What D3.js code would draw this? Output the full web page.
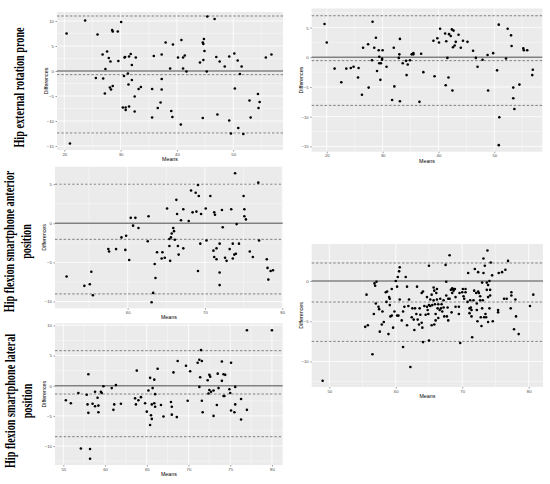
<!DOCTYPE html>
<html>
<head>
<meta charset="utf-8">
<script src="https://cdn.jsdelivr.net/npm/d3@7/dist/d3.min.js"></script>
<style>
  html, body { margin: 0; padding: 0; background: #fff; }
  svg { display: block; }
</style>
</head>
<body>
<div id="chart"></div>
<script>
// ---------------- DATA: [mean, difference] per subject ----------------
const p1Points = [
  [20.4, 7.5], [21.0, -14.5], [23.7, 10.1], [25.9, 7.3], [25.6, -1.4], [26.8, 3.3], [26.9, -1.5],
  [27.2, -4.5], [27.3, 0.4], [27.6, 3.9], [27.9, 2.6], [28.1, -3.3], [28.2, 1.9], [28.3, -3.7],
  [28.5, 8.2], [28.6, 7.9], [28.6, -3.0], [29.5, 7.9], [29.6, 2.0], [30.1, 9.8], [30.4, -7.3],
  [30.6, -1.0], [30.7, 2.7], [30.8, 2.8], [30.9, -7.3], [30.9, -7.8], [31.3, -0.5], [31.4, -2.7],
  [31.5, 2.9], [31.5, -7.1], [31.8, 3.4], [32.0, 1.2], [32.0, -1.8], [32.5, -5.1], [32.5, -8.1],
  [32.7, 2.7], [33.2, -3.6], [33.6, -3.2], [35.6, -9.3], [35.6, -3.6], [35.9, 3.0], [36.6, -7.4],
  [37.1, -6.3], [37.3, -1.6], [37.3, -3.7], [37.3, 3.3], [38.0, 5.7], [38.8, 0.5], [39.0, -8.0],
  [39.2, -9.2], [39.3, 5.3], [40.2, 2.7], [40.7, -10.7], [40.8, 6.2], [41.1, 0.5], [41.1, 2.7],
  [41.4, 3.1], [41.7, -0.1], [44.1, 1.7], [44.6, -9.4], [44.6, 5.7], [44.7, 2.2], [44.7, 5.4],
  [44.8, 6.4], [44.9, 4.0], [45.3, -0.1], [45.4, 10.9], [46.7, 10.4], [47.0, 2.8], [47.2, -8.7],
  [47.6, 1.9], [48.5, 0.9], [49.3, 2.9], [49.3, -9.9], [49.6, -12.5], [50.2, 3.5], [50.3, -3.5],
  [50.8, 2.1], [50.9, -11.4], [51.2, -0.6], [51.5, 0.9], [51.8, -12.6], [52.9, -5.9], [53.1, -9.3],
  [54.4, -4.6], [54.5, -7.4], [54.7, -6.2], [55.8, 2.7], [56.8, 3.3]
];
const p2Points = [
  [19.6, 5.6], [20.0, 2.5], [21.4, -1.9], [22.6, -4.2], [23.5, -1.9], [24.3, -1.8], [24.8, -1.6],
  [25.6, -3.4], [25.7, -1.8], [26.3, -6.3], [26.5, 1.6], [27.4, 2.2], [27.5, -5.1], [28.1, -0.5],
  [28.2, 6.0], [28.5, 1.6], [28.8, 3.3], [29.0, -2.3], [29.3, 1.2], [29.4, -1.0], [29.4, 0.1],
  [29.6, -3.8], [29.7, -1.0], [29.9, -0.4], [30.0, 1.2], [29.9, -0.2], [30.7, -1.6], [31.7, -7.2],
  [32.0, 1.6], [32.1, -4.9], [32.9, -0.1], [33.1, -7.4], [33.1, 3.1], [33.0, 0.5], [33.6, -1.0],
  [34.2, -0.6], [34.3, -3.0], [34.5, -1.2], [34.9, -0.5], [35.2, 0.5], [35.5, 0.7], [35.5, 0.5],
  [36.6, -7.5], [36.9, 0.6], [37.3, -2.5], [39.1, 2.8], [39.3, -3.2], [39.8, 3.2], [40.1, 2.5],
  [40.3, 4.8], [41.3, -4.7], [41.2, 4.0], [41.4, 2.7], [41.6, -0.1], [41.8, -3.4], [41.9, 3.9],
  [42.2, 3.6], [42.4, 4.7], [42.5, -5.6], [42.7, 4.5], [42.6, 1.7], [42.9, 2.0], [43.1, 2.6],
  [43.6, 3.8], [44.0, 1.6], [44.4, 2.8], [45.2, 2.6], [46.2, 1.1], [46.7, -0.1], [47.0, -1.6],
  [47.9, -0.4], [48.8, 0.4], [48.9, -5.6], [49.8, 0.7], [50.5, -2.2], [50.8, 5.5], [50.9, -10.1],
  [50.8, -14.8], [52.1, -0.2], [52.4, 4.8], [53.0, 3.7], [53.1, 1.9], [53.4, -5.1], [53.4, -6.9],
  [53.6, -8.7], [54.5, -4.6], [55.2, 1.5], [55.3, 1.2], [55.9, 1.2], [56.8, -3.0], [56.9, -2.1]
];
const p3Points = [
  [52.1, -6.8], [54.4, -8.0], [55.1, -7.8], [55.3, -6.2], [55.5, -9.2], [57.5, -3.3], [57.6, -3.6],
  [58.5, -3.3], [59.2, -1.8], [59.8, -1.6], [59.7, -3.4], [60.2, -4.7], [60.4, 0.7], [60.7, -0.3],
  [61.0, 0.7], [61.4, -0.6], [62.6, -2.3], [62.7, 0.9], [63.3, -8.9], [63.1, -10.1], [63.5, -5.2],
  [63.6, -7.0], [63.8, -3.7], [64.5, -3.7], [64.4, -4.5], [64.8, -4.4], [65.1, 1.9], [65.4, -2.0],
  [65.4, -2.9], [65.5, -4.8], [65.6, -1.8], [65.7, -1.3], [65.9, -0.6], [66.0, -1.0], [66.1, -2.1],
  [66.3, 3.0], [66.4, 1.2], [66.5, -2.9], [66.6, -4.0], [66.9, 0.4], [67.2, 1.8], [67.2, -3.2],
  [67.9, 0.3], [68.2, 4.2], [68.4, 1.4], [68.8, 3.9], [68.9, 1.5], [69.1, 4.9], [69.2, 3.5],
  [69.1, -6.1], [69.4, -2.6], [69.5, 1.2], [70.1, 1.9], [70.2, -2.2], [70.7, 3.5], [71.1, -3.5],
  [71.2, 1.4], [71.3, 1.1], [71.2, -4.3], [71.5, -3.2], [71.5, -4.6], [71.9, -2.6], [71.9, -6.3],
  [71.9, -7.9], [72.2, 1.7], [72.3, -0.5], [72.6, -4.4], [72.8, -4.8], [73.2, -3.3], [73.4, 1.8],
  [73.6, -2.6], [73.6, -4.5], [73.8, -4.0], [73.9, 6.4], [74.0, -3.9], [74.1, -0.1], [74.4, -2.6],
  [75.0, 3.5], [75.1, 1.8], [75.1, 0.9], [75.3, 0.5], [75.8, -3.6], [76.2, -4.3], [76.9, 5.2],
  [77.0, -2.2], [78.0, -4.6], [78.1, -5.7], [78.2, -7.2], [78.5, -6.1], [78.8, -6.0]
];
const p4Points = [
  [49.0, -12.4], [55.4, -5.7], [55.6, -1.7], [55.8, -5.5], [56.5, -9.1], [56.7, -4.1], [56.8, -0.3],
  [56.9, -0.6], [57.1, -0.1], [57.0, -2.8], [57.4, -3.2], [57.5, -3.5], [57.6, -6.3], [57.9, -5.4],
  [58.0, -3.8], [58.2, -5.1], [58.5, -1.4], [58.7, -1.3], [58.6, -2.6], [58.9, -6.6], [59.0, -2.0],
  [59.1, -2.2], [59.1, -3.0], [59.2, -4.4], [59.4, -4.3], [59.4, -1.0], [59.6, -5.8], [60.0, 0.0],
  [60.2, -0.7], [60.2, -4.3], [60.3, 0.5], [60.4, -4.3], [60.5, 1.2], [60.6, 1.7], [60.6, -2.3],
  [60.9, -4.9], [61.1, -8.2], [61.3, -3.2], [61.5, 0.5], [61.7, -0.7], [61.7, -5.5], [62.0, -2.3],
  [62.2, -10.7], [62.4, -4.5], [62.7, -4.8], [62.9, -3.4], [63.1, -4.1], [63.2, -0.7], [63.3, -4.8],
  [63.5, -5.4], [63.6, -3.4], [63.9, -1.5], [63.9, -5.2], [64.0, -5.8], [64.1, -1.3], [64.1, -7.6],
  [64.3, -3.1], [64.5, -4.2], [64.7, -3.2], [64.7, -2.0], [64.9, -4.1], [65.0, 1.9], [65.0, -7.4],
  [65.0, -3.0], [65.2, -3.1], [65.4, -1.7], [65.4, -5.5], [65.5, -3.0], [65.7, -2.4], [65.7, -0.8],
  [65.8, -1.2], [65.9, -2.9], [66.0, -4.1], [66.0, -4.9], [66.1, -1.5], [66.2, -2.3], [66.2, -1.0],
  [66.3, -3.4], [66.4, -2.9], [66.6, -3.6], [66.7, -2.2], [66.8, -3.4], [66.9, -2.9], [67.2, -2.4],
  [67.2, -3.3], [67.3, -4.4], [67.5, 2.0], [67.6, -0.1], [67.6, -1.8], [67.8, -3.3], [67.9, -2.2],
  [68.1, 3.2], [68.1, -2.2], [68.3, -1.1], [68.4, -3.9], [68.5, -0.9], [68.5, -1.5], [68.6, -1.0],
  [68.7, -1.2], [68.9, -1.0], [69.0, -3.2], [69.0, -2.0], [69.5, -3.2], [69.5, -4.1], [69.7, -7.7],
  [70.0, -1.4], [70.1, -1.0], [70.2, -1.9], [70.3, -2.2], [70.5, -1.0], [70.8, -2.6], [70.9, 1.0],
  [71.1, -3.4], [71.1, -4.0], [71.2, -2.4], [71.3, -3.3], [71.4, -3.6], [71.5, -7.0], [71.7, -2.4],
  [71.8, -1.2], [71.9, 1.5], [72.1, -1.5], [72.3, -5.0], [72.4, 1.1], [72.4, -1.3], [72.5, -1.5],
  [72.7, -1.9], [72.7, -2.4], [72.8, -4.5], [72.9, -5.6], [73.0, -0.2], [73.0, -3.4], [73.1, -2.4],
  [73.2, 2.8], [73.2, 1.0], [73.3, -4.5], [73.4, 1.9], [73.5, -4.1], [73.6, -4.5], [73.7, -0.2],
  [73.8, 3.8], [73.9, -5.1], [73.9, -2.0], [74.1, -3.4], [74.1, 0.0], [74.2, -1.1], [74.2, -1.8],
  [74.3, 2.3], [74.5, 0.7], [74.6, -5.0], [75.4, -3.6], [75.4, -3.9], [75.5, 1.0], [76.0, 1.1],
  [76.3, -2.2], [76.5, 1.4], [76.7, -2.2], [76.9, 2.5], [77.3, -3.4], [77.4, -1.4], [77.4, -1.8],
  [77.8, -6.0], [78.0, -2.3], [78.1, -4.4], [78.5, -6.6], [80.2, -3.1], [80.7, -1.7],
  [63.7, -4.2], [64.8, -3.6], [66.4, -4.6], [67.0, -3.8], [65.2, -2.3], [61.9, -3.1], [62.5, -3.4],
  [65.8, -5.4], [62.8, -6.1], [59.8, -3.8], [61.1, -3.8], [69.6, -1.5], [70.5, -1.4], [72.2, -3.6],
  [72.2, -2.8], [71.4, -4.4], [73.9, -0.5], [73.7, -1.1], [67.7, -4.4], [67.9, -4.9]
];
const p5Points = [
  [55.3, -2.4], [55.9, -2.9], [56.8, -1.2], [57.1, -10.4], [57.8, -1.5], [57.9, -3.1], [58.0, -4.5],
  [58.0, 1.9], [58.2, -10.5], [58.2, -12.1], [58.5, -3.0], [58.8, -3.4], [58.8, -1.0], [59.1, -2.0],
  [59.2, -3.3], [59.2, -4.4], [59.5, -1.0], [59.6, -1.2], [59.8, -0.1], [60.8, -0.4], [61.0, -4.0],
  [61.1, -3.1], [61.3, 0.1], [61.9, -3.0], [63.6, -2.1], [63.7, -3.1], [63.8, 2.5], [64.0, -2.4],
  [64.3, -1.9], [64.8, -2.9], [65.0, -4.3], [65.2, -0.8], [65.4, -6.5], [65.4, 1.3], [65.5, -4.9],
  [65.6, -5.5], [65.6, -3.1], [65.7, -0.4], [65.9, -2.9], [65.9, 1.0], [66.0, -1.4], [66.0, -3.5],
  [66.3, 2.8], [66.7, -3.2], [67.0, -5.1], [67.9, -2.7], [68.0, -3.5], [68.0, -4.8], [68.2, 2.2],
  [68.6, -5.2], [68.7, 4.1], [69.7, 3.3], [69.9, -2.5], [70.2, 2.4], [71.1, 3.8], [71.3, -0.2],
  [71.3, 4.3], [71.4, 1.4], [71.5, 5.9], [71.6, -2.5], [71.6, 4.1], [71.7, -4.4], [72.3, 0.9],
  [72.4, -1.3], [72.5, 1.8], [72.5, -0.7], [72.6, 1.5], [72.7, -1.0], [73.0, -0.8], [73.0, -5.0],
  [73.4, -3.2], [73.5, 2.0], [73.6, -0.4], [74.0, 4.0], [74.0, 0.8], [74.2, 1.9], [74.2, -1.7],
  [74.3, -1.7], [74.4, 1.8], [74.9, -0.6], [75.0, -1.2], [75.1, 3.8], [75.1, -4.1], [75.5, -4.4],
  [75.6, -0.2], [75.6, -3.1], [76.3, -2.2], [76.3, -5.6], [77.0, 9.2], [77.0, -4.0], [80.0, 9.2]
];

// reference lines: [upper limit, mean difference, lower limit]
const p1Lines = [11.0, -0.73, -12.4];
const p2Lines = [7.0, -0.56, -8.1];
const p3Lines = [5.0, -2.05, -9.03];
const p4Lines = [2.24, -2.61, -7.51];
const p5Lines = [5.8, -1.38, -8.45];

// tick labels
const p1XTicks = [20, 30, 40, 50];
const p1YTicks = [-15, -10, -5, 0, 5, 10];
const p2XTicks = [20, 30, 40, 50];
const p2YTicks = [-15, -10, -5, 0, 5];
const p3XTicks = [60, 70, 80];
const p3YTicks = [-10, -5, 0, 5];
const p4XTicks = [50, 60, 70, 80];
const p4YTicks = [-10, -5, 0];
const p5XTicks = [55, 60, 65, 70, 75, 80];
const p5YTicks = [-10, -5, 0, 5, 10];

// row titles
const rowTitles = [
  ["Hip external rotation prone"],
  ["Hip flexion smartphone anterior", "position"],
  ["Hip flexion smartphone lateral", "position"]
];

// ---------------- LAYOUT ----------------
const width = 550, height = 484;

const svg = d3.select("#chart")
  .append("svg")
  .attr("width", width)
  .attr("height", height);

const panels = [
  {pts: p1Points, lines: p1Lines, xt: p1XTicks, yt: p1YTicks, box: [57, 283, 12, 150],   xd: [18.7, 58.85], yd: [-15.8, 11.8]},
  {pts: p2Points, lines: p2Lines, xt: p2XTicks, yt: p2YTicks, box: [311.7, 542.3, 8.5, 151.7], xd: [17.3, 58.6], yd: [-15.9, 8.22]},
  {pts: p3Points, lines: p3Lines, xt: p3XTicks, yt: p3YTicks, box: [55, 282.7, 166.7, 308.3], xd: [50.6, 80.06], yd: [-10.87, 7.24]},
  {pts: p4Points, lines: p4Lines, xt: p4XTicks, yt: p4YTicks, box: [311.7, 543, 244, 387],   xd: [47.35, 82.16], yd: [-13.18, 4.6]},
  {pts: p5Points, lines: p5Lines, xt: p5XTicks, yt: p5YTicks, box: [55, 282.7, 323.3, 465],  xd: [54.0, 81.29], yd: [-13.14, 10.34]}
];

// minor breaks halfway between majors (ggplot style)
function minorBreaks(ticks, domain) {
  const step = ticks[1] - ticks[0];
  const out = [];
  for (let v = ticks[0] - step / 2; v <= domain[1]; v += step) {
    if (v >= domain[0]) out.push(v);
  }
  return out;
}

panels.forEach(p => {
  const [x0, x1, y0, y1] = p.box;
  const x = d3.scaleLinear().domain(p.xd).range([x0, x1]);
  const y = d3.scaleLinear().domain(p.yd).range([y1, y0]);
  const g = svg.append("g");

  g.append("rect")
    .attr("x", x0).attr("y", y0)
    .attr("width", x1 - x0).attr("height", y1 - y0)
    .attr("fill", "#EBEBEB");

  // grid
  g.selectAll(".vmin").data(minorBreaks(p.xt, p.xd)).join("line")
    .attr("x1", d => x(d)).attr("x2", d => x(d)).attr("y1", y0).attr("y2", y1)
    .attr("stroke", "#fff").attr("stroke-width", 0.4);
  g.selectAll(".hmin").data(minorBreaks(p.yt, p.yd)).join("line")
    .attr("y1", d => y(d)).attr("y2", d => y(d)).attr("x1", x0).attr("x2", x1)
    .attr("stroke", "#fff").attr("stroke-width", 0.4);
  g.selectAll(".vmaj").data(p.xt).join("line")
    .attr("x1", d => x(d)).attr("x2", d => x(d)).attr("y1", y0).attr("y2", y1)
    .attr("stroke", "#fff").attr("stroke-width", 0.8);
  g.selectAll(".hmaj").data(p.yt).join("line")
    .attr("y1", d => y(d)).attr("y2", d => y(d)).attr("x1", x0).attr("x2", x1)
    .attr("stroke", "#fff").attr("stroke-width", 0.8);

  // zero line + limits of agreement
  g.append("line")
    .attr("x1", x0).attr("x2", x1).attr("y1", y(0)).attr("y2", y(0))
    .attr("stroke", "#808080").attr("stroke-width", 1.4);
  g.selectAll(".loa").data(p.lines).join("line")
    .attr("x1", x0).attr("x2", x1).attr("y1", d => y(d)).attr("y2", d => y(d))
    .attr("stroke", "#555").attr("stroke-width", 0.7)
    .attr("stroke-dasharray", "2.5,1.8");

  // points
  g.selectAll("circle").data(p.pts).join("circle")
    .attr("cx", d => x(d[0])).attr("cy", d => y(d[1]))
    .attr("r", 1.3).attr("fill", "#000");

  // axes
  const xAxis = d3.axisBottom(x).tickValues(p.xt).tickSize(1.5).tickPadding(1);
  const yAxis = d3.axisLeft(y).tickValues(p.yt).tickSize(1.5).tickPadding(1.5);
  const gx = g.append("g").attr("transform", `translate(0,${y1})`).call(xAxis);
  const gy = g.append("g").attr("transform", `translate(${x0},0)`).call(yAxis);
  [gx, gy].forEach(a => {
    a.select(".domain").remove();
    a.selectAll("line").attr("stroke", "#333").attr("stroke-width", 0.5);
    a.selectAll("text")
      .attr("fill", "#4D4D4D")
      .style("font-family", "'Liberation Sans', Arial, sans-serif")
      .style("font-size", "4.3px");
  });

  g.append("text")
    .attr("x", (x0 + x1) / 2).attr("y", y1 + 11)
    .attr("text-anchor", "middle")
    .style("font-family", "'Liberation Sans', Arial, sans-serif")
    .style("font-size", "5.3px")
    .text("Means");

  g.append("text")
    .attr("transform", `translate(${x0 - 9},${(y0 + y1) / 2}) rotate(-90)`)
    .attr("text-anchor", "middle")
    .style("font-family", "'Liberation Sans', Arial, sans-serif")
    .style("font-size", "5.3px")
    .text("Differences");
});

// ---------------- ROW TITLES ----------------
const titlePos = [[24, 87.5], [14, 241.5], [15, 401]];
rowTitles.forEach((lines, i) => {
  const [tx, ty] = titlePos[i];
  const t = svg.append("text")
    .attr("transform", `translate(${tx},${ty}) rotate(-90) scale(0.73,1)`)
    .attr("text-anchor", "middle")
    .style("font-family", "'Liberation Serif', 'Times New Roman', serif")
    .style("font-weight", "bold")
    .style("font-size", "14px")
    .attr("fill", "#000");
  lines.forEach((s, j) => {
    t.append("tspan").attr("x", 0).attr("dy", j === 0 ? 0 : 17).text(s);
  });
});
</script>
</body>
</html>
